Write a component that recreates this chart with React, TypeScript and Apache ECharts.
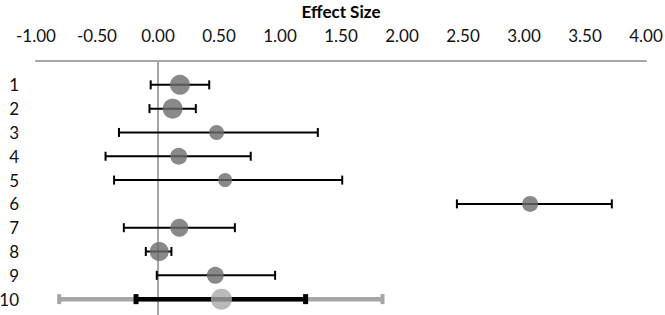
import React, { useEffect, useRef } from "react";
import * as echarts from "echarts";

// Study rows (1..9) and pooled row (10)
const rowLabels = ["1", "2", "3", "4", "5", "6", "7", "8", "9", "10"];
const effects = [0.18, 0.12, 0.48, 0.17, 0.55, 3.05, 0.175, 0.01, 0.47];
const lowers = [-0.06, -0.07, -0.32, -0.43, -0.36, 2.45, -0.28, -0.1, -0.01];
const uppers = [0.42, 0.31, 1.31, 0.76, 1.51, 3.72, 0.63, 0.11, 0.96];
const weights = [10, 10, 7.5, 8.5, 7, 8, 9, 9.5, 8.5];

const pooledEffect = 0.52;
const pooledWeight = 10.5;
const pooledCI = [-0.18, 1.21];
const predictionInterval = [-0.81, 1.84];

const xTicks = { min: -1, max: 4, interval: 0.5 };

export default function App() {
  const ref = useRef<HTMLDivElement>(null);
  useEffect(() => {
    document.body.style.margin = "0";
    const chart = echarts.init(ref.current!, null, { renderer: "svg" });
    const font = "Lato, 'Open Sans', sans-serif";

    // error bar data: [row, low, high, kind]  kind 0 = study, 1 = pooled CI, 2 = prediction interval
    const errData: number[][] = [];
    errData.push([10, predictionInterval[0], predictionInterval[1], 2]);
    errData.push([10, pooledCI[0], pooledCI[1], 1]);
    effects.forEach((_, i) => errData.push([i + 1, lowers[i], uppers[i], 0]));

    const pointData: any[] = effects.map((e, i) => ({
      value: [e, i + 1],
      symbolSize: weights[i] * 2,
      itemStyle: { color: "#6b6b6b" },
    }));
    pointData.push({
      value: [pooledEffect, 10],
      symbolSize: pooledWeight * 2,
      itemStyle: { color: "#a9a9a9" },
    });

    chart.setOption({
      animation: false,
      grid: { left: 36, right: 19, top: 61, bottom: -2, containLabel: false, outerBoundsMode: "none" },
      xAxis: {
        type: "value",
        position: "top",
        min: xTicks.min,
        max: xTicks.max,
        interval: xTicks.interval,
        name: "Effect Size",
        nameLocation: "middle",
        nameGap: 41,
        nameTextStyle: { fontFamily: font, fontWeight: "bold", fontSize: 17, color: "#000" },
        axisLine: { show: true, lineStyle: { color: "#a6a6a6", width: 2 } },
        axisTick: { show: false },
        splitLine: { show: false },
        axisLabel: {
          margin: 17,
          fontFamily: font,
          fontSize: 17,
          color: "#111",
          formatter: (v: number) => v.toFixed(2),
        },
      },
      yAxis: {
        type: "value",
        inverse: true,
        min: 0,
        max: 10.75,
        interval: 1,
        axisLine: { show: false },
        axisTick: { show: false },
        splitLine: { show: false },
        axisLabel: {
          margin: 17,
          fontFamily: font,
          fontSize: 17,
          color: "#111",
          align: "right",
          formatter: (v: number) =>
            Number.isInteger(v) && v >= 1 && v <= rowLabels.length ? rowLabels[v - 1] : "",
        },
      },
      series: [
        {
          type: "custom",
          z: 2,
          encode: { x: [1, 2], y: 0 },
          data: errData,
          renderItem: (params: any, api: any) => {
            const y = api.value(0);
            const lo = api.value(1);
            const hi = api.value(2);
            const kind = api.value(3);
            const p1 = api.coord([lo, y]);
            const p2 = api.coord([hi, y]);
            if (kind === 0) {
              const st = { stroke: "#000", lineWidth: 2 };
              return {
                type: "group",
                children: [
                  { type: "line", shape: { x1: p1[0], y1: p1[1], x2: p2[0], y2: p2[1] }, style: st },
                  { type: "line", shape: { x1: p1[0], y1: p1[1] - 4.5, x2: p1[0], y2: p1[1] + 4.5 }, style: st },
                  { type: "line", shape: { x1: p2[0], y1: p2[1] - 4.5, x2: p2[0], y2: p2[1] + 4.5 }, style: st },
                ],
              };
            }
            const color = kind === 1 ? "#000" : "#a6a6a6";
            const lw = 4.5;
            const capW = kind === 1 ? 5 : 4;
            const capH = 5;
            return {
              type: "group",
              children: [
                { type: "line", shape: { x1: p1[0], y1: p1[1], x2: p2[0], y2: p2[1] }, style: { stroke: color, lineWidth: lw } },
                { type: "rect", shape: { x: p1[0] - capW / 2, y: p1[1] - capH, width: capW, height: capH * 2 }, style: { fill: color } },
                { type: "rect", shape: { x: p2[0] - capW / 2, y: p2[1] - capH, width: capW, height: capH * 2 }, style: { fill: color } },
              ],
            };
          },
        },
        {
          type: "scatter",
          z: 3,
          symbol: "circle",
          data: pointData,
          markLine: {
            silent: true,
            symbol: "none",
            z: 1,
            label: { show: false },
            lineStyle: { color: "#a6a6a6", width: 2, type: "solid" },
            data: [{ xAxis: 0 }],
          },
        },
      ],
    });
    return () => chart.dispose();
  }, []);
  return <div ref={ref} style={{ width: 665, height: 315 }} />;
}
